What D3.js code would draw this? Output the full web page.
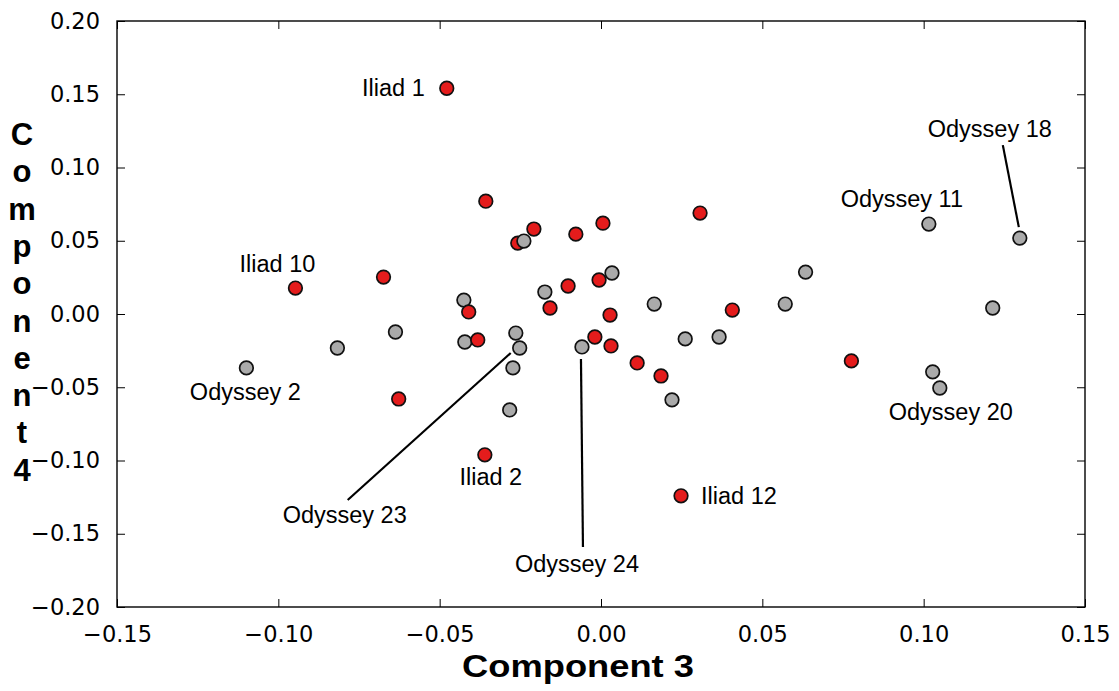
<!DOCTYPE html>
<html><head><meta charset="utf-8">
<script src="https://cdn.jsdelivr.net/npm/d3@7"></script>
<style>body{margin:0;background:#fff}</style>
</head><body>
<svg id="chart" width="1119" height="691"></svg>
<script>
// ---- Data (Component 3, Component 4) ----
const iliadX = [-0.0478,-0.0357,-0.0947,-0.0674,-0.0208,-0.0258,-0.0078,0.0006,0.0307,-0.0410,-0.0382,-0.0158,-0.0102,-0.0006,0.0028,-0.0019,0.0031,0.0112,0.0186,0.0407,0.0776,-0.0627,-0.0360,0.0248];
const iliadY = [0.1541,0.0770,0.0177,0.0252,0.0580,0.0484,0.0545,0.0620,0.0689,0.0014,-0.0177,0.0041,0.0191,0.0232,-0.0007,-0.0157,-0.0218,-0.0334,-0.0423,0.0027,-0.0320,-0.0580,-0.0961,-0.1241];
const odysseyX = [0.1016,0.1298,-0.0239,0.0034,-0.0174,-0.0425,0.0165,0.0571,0.0634,0.1214,-0.0264,-0.0252,-0.0059,0.0261,0.0366,-0.0422,-0.0637,-0.0817,-0.1099,-0.0273,-0.0283,0.0220,0.1028,0.1050];
const odysseyY = [0.0614,0.0518,0.0498,0.0280,0.0150,0.0095,0.0068,0.0068,0.0286,0.0041,-0.0130,-0.0232,-0.0225,-0.0170,-0.0157,-0.0191,-0.0123,-0.0232,-0.0368,-0.0368,-0.0655,-0.0586,-0.0395,-0.0505];
const xTicks = [-0.15,-0.10,-0.05,0.00,0.05,0.10,0.15];
const yTicks = [-0.20,-0.15,-0.10,-0.05,0.00,0.05,0.10,0.15,0.20];
const xLabel = "Component 3";
const yLabel = "Component 4";
// annotated points: label, series, index into that series
const annLabels = ["Iliad 1","Iliad 10","Iliad 2","Iliad 12","Odyssey 2","Odyssey 11","Odyssey 18","Odyssey 20","Odyssey 23","Odyssey 24"];
const annSeries = ["iliad","iliad","iliad","iliad","odyssey","odyssey","odyssey","odyssey","odyssey","odyssey"];
const annIndex  = [0,2,22,23,18,0,1,23,11,12];

// ---- Layout / style ----
const W = 1119, H = 691;
const m = {left:117, right:1085, top:21, bottom:607};
const svg = d3.select("#chart");
const x = d3.scaleLinear().domain([-0.15,0.15]).range([m.left,m.right]);
const y = d3.scaleLinear().domain([-0.20,0.20]).range([m.bottom,m.top]);
const tickFont = "'DejaVu Sans', sans-serif";
const txtFont = "'Liberation Sans', Arial, Helvetica, sans-serif";

// label layout (pixel offsets relative to point): text dx, dy, anchor, optional line [x1,y1,x2,y2]
const annLayout = [
  {dx:-22, dy:8, anchor:"end"},
  {dx:-18, dy:-16, anchor:"middle"},
  {dx:6, dy:30, anchor:"middle"},
  {dx:20, dy:8, anchor:"start"},
  {dx:-1, dy:32, anchor:"middle"},
  {dx:-27, dy:-17, anchor:"middle"},
  {dx:-30, dy:-101, anchor:"middle", line:[-17,-93,-1,-11]},
  {dx:11, dy:32, anchor:"middle"},
  {dx:-175, dy:175, anchor:"middle", line:[-172,152,-9,5]},
  {dx:-5, dy:225, anchor:"middle", line:[1,200,-1,12]}
];

// axes (inward ticks on all four sides)
const tickLen = 8;
const fmt = d => d3.format(".2f")(d).replace("-","\u2212");
const gB = svg.append("g").attr("transform",`translate(0,${m.bottom})`)
  .call(d3.axisBottom(x).tickValues(xTicks).tickSizeInner(-tickLen).tickSizeOuter(0).tickPadding(tickLen+11).tickFormat(fmt));
const gT = svg.append("g").attr("transform",`translate(0,${m.top})`)
  .call(d3.axisTop(x).tickValues(xTicks).tickSizeInner(-tickLen).tickSizeOuter(0).tickFormat(""));
const gL = svg.append("g").attr("transform",`translate(${m.left},0)`)
  .call(d3.axisLeft(y).tickValues(yTicks).tickSizeInner(-tickLen).tickSizeOuter(0).tickPadding(tickLen+9).tickFormat(fmt));
const gR = svg.append("g").attr("transform",`translate(${m.right},0)`)
  .call(d3.axisRight(y).tickValues(yTicks).tickSizeInner(-tickLen).tickSizeOuter(0).tickFormat(""));
[gB,gT,gL,gR].forEach(g => {
  g.select(".domain").remove();
  g.selectAll(".tick line").attr("stroke","#000").attr("stroke-width",1);
  g.selectAll("text").attr("font-family",tickFont).attr("font-size",22.5).attr("fill","#000");
});
svg.append("rect").attr("x",m.left).attr("y",m.top).attr("width",m.right-m.left).attr("height",m.bottom-m.top)
  .attr("fill","none").attr("stroke","#000").attr("stroke-width",1.4);

// axis labels
svg.append("text").attr("x",578).attr("y",677).attr("text-anchor","middle")
  .attr("font-family",txtFont).attr("font-weight","bold").attr("font-size",32)
  .attr("textLength",232).attr("lengthAdjust","spacingAndGlyphs").text(xLabel);
const yl = svg.append("text").attr("text-anchor","middle").attr("font-family",txtFont)
  .attr("font-weight","bold").attr("font-size",31);
yLabel.replace(/ /g,"").split("").forEach((ch,i) => {
  yl.append("tspan").attr("x",22).attr("y",145 + i*37.3).text(ch);
});

// points
const iliad = iliadX.map((v,i) => ({x:v, y:iliadY[i]}));
const odyssey = odysseyX.map((v,i) => ({x:v, y:odysseyY[i]}));
const onTop = [2,3]; // odyssey points drawn above the red ones
const r = 6.8;
function dots(data, fill) {
  svg.append("g").selectAll("circle").data(data).join("circle")
    .attr("cx", d => x(d.x)).attr("cy", d => y(d.y)).attr("r", r)
    .attr("fill", fill).attr("stroke","#111").attr("stroke-width",1.7);
}
dots(odyssey.filter((d,i) => !onTop.includes(i)), "#aaaaaa");
dots(iliad, "#e41c1c");
dots(odyssey.filter((d,i) => onTop.includes(i)), "#aaaaaa");

// annotations
annLabels.forEach((lab,i) => {
  const d = (annSeries[i]==="iliad" ? iliad : odyssey)[annIndex[i]];
  const px = x(d.x), py = y(d.y), L = annLayout[i];
  if (L.line) {
    svg.append("line").attr("x1",px+L.line[0]).attr("y1",py+L.line[1])
      .attr("x2",px+L.line[2]).attr("y2",py+L.line[3]).attr("stroke","#000").attr("stroke-width",2.2);
  }
  svg.append("text").attr("x",px+L.dx).attr("y",py+L.dy).attr("text-anchor",L.anchor)
    .attr("font-family",txtFont).attr("font-size",23.5).attr("fill","#000").text(lab);
});
</script>
</body></html>
